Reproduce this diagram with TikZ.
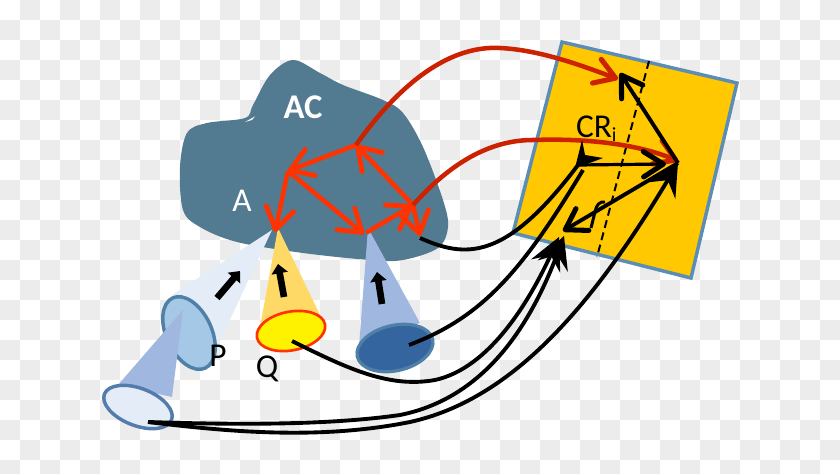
\documentclass[tikz,border=0pt]{standalone}
\usepackage{fontspec}
\setmainfont{Carlito}
\usetikzlibrary{arrows.meta}
\definecolor{chk}{HTML}{ECECEC}
\definecolor{acblue}{HTML}{527A91}
\definecolor{sqfill}{HTML}{FFC800}
\definecolor{sqline}{HTML}{5B8DB5}
\definecolor{dred}{HTML}{CC2200}
\definecolor{bred}{HTML}{FF3300}
\definecolor{palecone}{HTML}{E3ECF7}
\definecolor{midcone}{HTML}{A0B8E0}
\definecolor{goldcone}{HTML}{FFD966}
\definecolor{ringblue}{HTML}{4F81A8}
\definecolor{darkblue}{HTML}{35659F}
\definecolor{skyblue}{HTML}{A5C8E6}
\tikzset{
  every node/.style={inner sep=0pt,outer sep=0pt},
  lbl/.style={font=\fontsize{25}{28}\selectfont,text=black},
  redlink/.style={bred,line width=3.4pt,-{Straight Barb[length=16pt,width=21pt,line width=3.6pt,round]}},
  longred/.style={dred,line width=3.4pt,-{Straight Barb[length=15pt,width=19pt,line width=3.8pt,round]}},
  blackline/.style={black,line width=2.9pt},
  blacktip/.style={blackline,-{Stealth[length=24pt,width=24pt,inset=9pt]}},
  openblack/.style={black,line width=2.9pt,-{Straight Barb[length=15pt,width=19pt,line width=3.8pt,round]}},
  beamtip/.style={black,line width=5pt,-{Triangle[length=7pt,width=12pt]}},
}
\begin{document}
\begin{tikzpicture}[x=0.75pt,y=-0.75pt]
\useasboundingbox (0,0) rectangle (840,474);
\clip (0,0) rectangle (840,474);
\fill[white] (0,0) rectangle (840,474);
\foreach \j in {0,...,23}{
  \pgfmathtruncatemacro\st{mod(\j,2)}
  \foreach \i in {0,2,...,42}{
    \fill[chk] ({20*(\i+1-\st)},{20*\j}) rectangle +(20,20);
  }
}
% association cortex
\fill[acblue] plot[smooth cycle,tension=0.55] coordinates {
 (293,60) (320,73) (343,85) (383,100) (403,113) (423,147) (443,200) (448,227)
 (438,248) (403,260) (370,260) (303,253) (237,242) (200,227) (183,210)
 (180,167) (187,133) (207,123) (245,118) (253,105) (270,75)};
\fill[white] (245,122) -- (255,116.5) -- (252,120) -- cycle;
\node[font=\fontsize{26}{28}\selectfont\bfseries,text=white] (ac) at (303,107) {AC};
\node[font=\fontsize{25}{28}\selectfont,text=white] (a) at (242,201) {A};
% plane
\filldraw[fill=sqfill,draw=sqline,line width=2.6pt,line join=miter]
  (562,42) -- (737,83) -- (691,278) -- (513,233) -- cycle;
\coordinate (dashA) at (649,61);
\coordinate (dashB) at (597,257);
\draw[black,line width=1.5pt,dash pattern=on 6pt off 3.5pt] (dashA) -- (dashB);
% cones
\fill[palecone] (272,230) -- (172,295) -- (217,347) -- cycle;
\filldraw[fill=skyblue,draw=ringblue,line width=2.6pt,shift={(189,333)},rotate=-65]
  (0,0) ellipse [x radius=29pt,y radius=17pt];
\fill[midcone] (183,310) -- (118,385) -- (172,397) -- cycle;
\filldraw[fill=palecone,draw=darkblue!85!white,line width=2.6pt,shift={(138,407)},rotate=-21]
  (0,0) ellipse [x radius=27pt,y radius=14pt];
\fill[goldcone] (278,228) -- (260,327) -- (320,315) -- cycle;
\filldraw[fill=yellow,draw=bred,line width=2pt,shift={(291,331)},rotate=11]
  (0,0) ellipse [x radius=26pt,y radius=14.5pt];
\fill[midcone] (368,228) -- (359,347) -- (420,323) -- cycle;
\filldraw[fill=darkblue,draw=ringblue,line width=2.4pt,shift={(395,348)},rotate=13]
  (0,0) ellipse [x radius=29pt,y radius=17pt];
% beam arrows
\coordinate (b1a) at (217,298); \coordinate (b1b) at (240,271);
\coordinate (b2a) at (284,297); \coordinate (b2b) at (278,264);
\coordinate (b3a) at (382,304); \coordinate (b3b) at (377,272);
\draw[beamtip] (b1a) -- (b1b);
\draw[beamtip] (b2a) -- (b2b);
\draw[beamtip] (b3a) -- (b3b);
% points in AC
\coordinate (n1) at (356,145);
\coordinate (n2) at (288,171);
\coordinate (n3) at (275,232);
\coordinate (n4) at (364,234);
\coordinate (n5) at (413,205);
\coordinate (n6) at (420,236);
\draw[redlink] (n1) -- (n2);
\draw[redlink] (n2) -- (n3);
\draw[redlink] (n2) -- (n4);
\draw[redlink,shorten <=2pt] (n4) -- (n5);
\draw[redlink] (n5) -- (n1);
\draw[redlink] (n5) -- (n6);
% points in the plane
\coordinate (p1) at (620,73);
\coordinate (p2) at (678,163);
\coordinate (p3) at (578,165);
\coordinate (p4) at (563,231);
\coordinate (p5) at (666,164);
\coordinate (p6) at (618,79);
\coordinate (p7) at (678,161);
% long red connectors
\draw[longred] (n1) .. controls (395,90) and (445,45) .. (500,48)
  .. controls (540,50) and (580,65) .. (p6);
\draw[longred] (n5) .. controls (440,175) and (480,140) .. (533,140)
  .. controls (590,138) and (640,145) .. (p7);
% vectors in the plane
\draw[openblack] (p2) -- (p1);
\draw[openblack,line width=2.4pt] (p3) -- (p5);
\draw[openblack] (p2) -- (p4);
\draw[black,line width=2.2pt] (591,228) -- (595,212) .. controls (596,205) and (600,201) .. (605,202);
% black connectors
\coordinate (s1) at (420,238);
\coordinate (s2) at (409,345);
\coordinate (s3) at (292,341);
\coordinate (s4) at (148,422);
\coordinate (t1) at (564,236);
\coordinate (t2) at (559,237);
\draw[blackline] (s1) .. controls (465,258) and (505,262) .. (p3);
\draw[blackline] (s2) .. controls (480,318) and (520,275) .. (583,170);
\draw[blacktip] (s3) .. controls (350,370) and (390,388) .. (435,380)
  .. controls (490,368) and (530,300) .. (t2);
\draw[blacktip] (s4) .. controls (240,425) and (330,425) .. (400,415)
  .. controls (475,400) and (525,340) .. (t1);
\draw[blacktip] (s4) .. controls (230,432) and (320,440) .. (410,422)
  .. controls (510,400) and (590,310) .. (p2);
% cap of the first connector
\fill[black] (582,140) -- (585,155) -- (603,158) -- (587,164) -- (575,168) -- cycle;
% labels
\node[lbl] (p) at (218,356) {P};
\node[lbl] (q) at (267,369) {Q};
\node[lbl,anchor=west] (cr) at (576,129) {CR\raisebox{-3pt}{\fontsize{15}{16}\selectfont i}};
\end{tikzpicture}
\end{document}
